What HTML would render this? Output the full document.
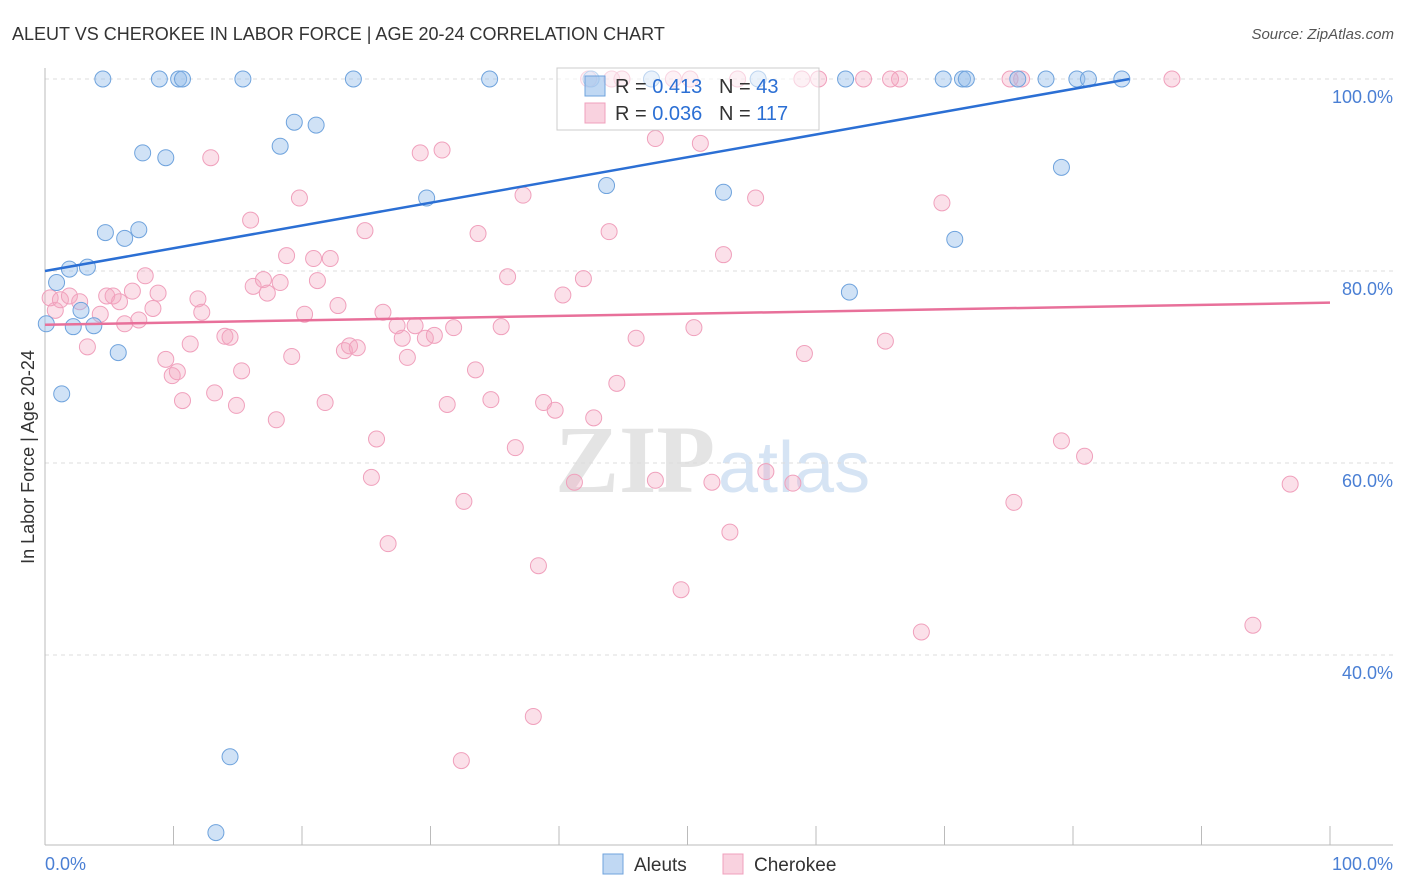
<!DOCTYPE html>
<html><head><meta charset="utf-8">
<style>
body{margin:0;background:#fff;font-family:"Liberation Sans",sans-serif;}
#wrap{position:relative;width:1406px;height:892px;}
svg{position:absolute;left:0;top:0;}
</style></head>
<body>
<div id="wrap">
<svg id="chart" width="1406" height="892">
<text x="12" y="40" font-size="18" fill="#333">ALEUT VS CHEROKEE IN LABOR FORCE | AGE 20-24 CORRELATION CHART</text>
<text x="1394" y="39" font-size="15" fill="#555" text-anchor="end" font-style="italic">Source: ZipAtlas.com</text>
<text x="34" y="457" font-size="18" fill="#333" text-anchor="middle" transform="rotate(-90 34 457)">In Labor Force | Age 20-24</text>
<text x="555" y="492" font-size="96" fill="#e4e4e4" font-family="Liberation Serif,serif" font-weight="bold">ZIP</text>
<text x="718" y="492" font-size="72" fill="#d6e4f4">atlas</text>
<g id="grid"></g><g id="pts"></g><g id="lines"></g>
</svg>
</div>
<script>
const yTicks=[100,80,60,40];
const xTickLabels=["0.0%","100.0%"];
const aleutX=[4.5,8.9,10.4,10.7,15.4,24.0,34.6,42.5,47.2,55.5,62.3,69.9,71.4,71.7,75.7,77.9,80.3,81.2,83.8,19.4,21.1,18.3,7.6,9.4,79.1,43.7,52.8,29.7,4.7,6.2,7.3,70.8,1.9,3.3,0.9,2.8,0.1,2.2,3.8,5.7,62.6,1.3,14.4,13.3];
const aleutY=[100,100,100,100,100,100,100,100,100,100,100,100,100,100,100,100,100,100,100,95.5,95.2,93.0,92.3,91.8,90.8,88.9,88.2,87.6,84.0,83.4,84.3,83.3,80.2,80.4,78.8,75.9,74.5,74.2,74.3,71.5,77.8,67.2,29.4,21.5];
const cherX=[0.8,0.4,1.2,1.9,2.7,3.3,4.3,4.8,5.3,5.8,6.2,6.8,7.3,7.8,8.4,8.8,9.4,9.9,10.3,10.7,11.3,11.9,12.2,12.9,13.2,14.0,14.4,14.9,15.3,16.0,16.2,17.0,17.3,18.0,18.3,18.8,19.2,19.8,20.2,20.9,21.2,21.8,22.2,22.8,23.3,23.7,24.3,24.9,25.4,25.8,26.3,26.7,27.4,27.8,28.2,28.8,29.2,29.6,30.3,30.9,31.3,31.8,32.6,32.4,33.5,33.7,34.7,35.5,36.0,36.6,37.2,38.0,38.4,38.8,39.7,40.3,41.2,41.9,42.7,43.9,44.5,46.0,47.5,47.5,49.5,50.5,51.0,51.9,52.8,53.3,55.3,56.1,58.2,59.1,65.4,68.2,69.8,75.4,79.1,80.9,94.0,96.9,87.7,76.0,75.1,66.5,65.8,63.7,60.2,58.9,53.9,50.2,48.9,44.9,42.3,44.1];
const cherY=[75.9,77.2,77.0,77.4,76.8,72.1,75.5,77.4,77.4,76.8,74.5,77.9,74.9,79.5,76.1,77.7,70.8,69.1,69.5,66.5,72.4,77.1,75.7,91.8,67.3,73.2,73.1,66.0,69.6,85.3,78.4,79.1,77.7,64.5,78.8,81.6,71.1,87.6,75.5,81.3,79.0,66.3,81.3,76.4,71.7,72.2,72.0,84.2,58.5,62.5,75.7,51.6,74.3,73.0,71.0,74.3,92.3,73.0,73.3,92.6,66.1,74.1,56.0,29.0,69.7,83.9,66.6,74.2,79.4,61.6,87.9,33.6,49.3,66.3,65.5,77.5,58.0,79.2,64.7,84.1,68.3,73.0,93.8,58.2,46.8,74.1,93.3,58.0,81.7,52.8,87.6,59.1,57.9,71.4,72.7,42.4,87.1,55.9,62.3,60.7,43.1,57.8,100,100,100,100,100,100,100,100,100,100,100,100,100,100];
const aleutTrend=[80.0,0.237,84.4]; // intercept, slope, xEnd
const cherTrend=[74.4,0.023,100];
const legendR=["0.413","0.036"], legendN=["43","117"];

const NS="http://www.w3.org/2000/svg";
const sx=v=>45+v*12.85, sy=v=>79+(100-v)*9.6;
function mk(tag,attrs,parent){const e=document.createElementNS(NS,tag);for(const k in attrs)e.setAttribute(k,attrs[k]);parent.appendChild(e);return e;}
const grid=document.getElementById('grid'),pts=document.getElementById('pts'),lines=document.getElementById('lines'),svg=document.getElementById('chart');
yTicks.forEach(t=>{
 const l=mk('line',{x1:45,x2:1393,y1:sy(t),y2:sy(t),stroke:'#ddd','stroke-dasharray':'4,4'},grid);
 
 
 const tx=mk('text',{x:1393,y:sy(t)+24,'font-size':18,fill:'#4a7fd4','text-anchor':'end'},grid);tx.textContent=t.toFixed(1)+'%';
 
 
});
const ax=mk('line',{x1:45,x2:45,y1:68,y2:845,stroke:'#bbb'},grid);


const bx=mk('line',{x1:45,x2:1393,y1:845,y2:845,stroke:'#bbb'},grid);


for(let i=0;i<=10;i++){const t=mk('line',{x1:sx(i*10),x2:sx(i*10),y1:826,y2:845,stroke:'#bbb'},grid);
 
 }
[[0,'start',45],[1,'end',1393]].forEach(([i,a,x])=>{const t=mk('text',{x:x,y:870,'font-size':18,fill:'#4a7fd4','text-anchor':a},grid);t.textContent=xTickLabels[i];
 
 });
cherX.forEach((v,i)=>{const c=mk('circle',{cx:sx(v),cy:sy(cherY[i]),r:8,fill:'rgba(244,166,192,0.35)',stroke:'#f0a0bc','stroke-width':1},pts);
 
 });
aleutX.forEach((v,i)=>{const c=mk('circle',{cx:sx(v),cy:sy(aleutY[i]),r:8,fill:'rgba(150,190,235,0.45)',stroke:'#6fa3dd','stroke-width':1},pts);
 
 });
const l1=mk('line',{x1:sx(0),y1:sy(aleutTrend[0]),x2:sx(aleutTrend[2]),y2:sy(aleutTrend[0]+aleutTrend[1]*aleutTrend[2]),stroke:'#2b6fd4','stroke-width':2.5},lines);


const l2=mk('line',{x1:sx(0),y1:sy(cherTrend[0]),x2:sx(cherTrend[2]),y2:sy(cherTrend[0]+cherTrend[1]*cherTrend[2]),stroke:'#e8709a','stroke-width':2.5},lines);


const lg=mk('g',{},svg);


mk('rect',{x:557,y:68,width:262,height:62,fill:'rgba(255,255,255,0.55)',stroke:'#ccc'},lg);
[['rgba(150,190,235,0.6)','#6fa3dd',86],['rgba(244,166,192,0.5)','#f0a0bc',113]].forEach((c,i)=>{
 mk('rect',{x:585,y:c[2]-10,width:20,height:20,fill:c[0],stroke:c[1]},lg);
 const t=mk('text',{x:615,y:c[2]+7,'font-size':20,fill:'#333'},lg);
 t.innerHTML='R = <tspan fill="#2b6fd4">'+legendR[i]+'</tspan>&#160;&#160;&#160;N = <tspan fill="#2b6fd4">'+legendN[i]+'</tspan>';
 
 
});
[['Aleuts',603,'rgba(150,190,235,0.6)','#6fa3dd'],['Cherokee',723,'rgba(244,166,192,0.5)','#f0a0bc']].forEach(d=>{
 const g=mk('g',{},svg);
 
 
 mk('rect',{x:d[1],y:854,width:20,height:20,fill:d[2],stroke:d[3]},g);
 const t=mk('text',{x:d[1]+31,y:871,'font-size':19,fill:'#333'},g);t.textContent=d[0];
});
</script>
</body></html>
